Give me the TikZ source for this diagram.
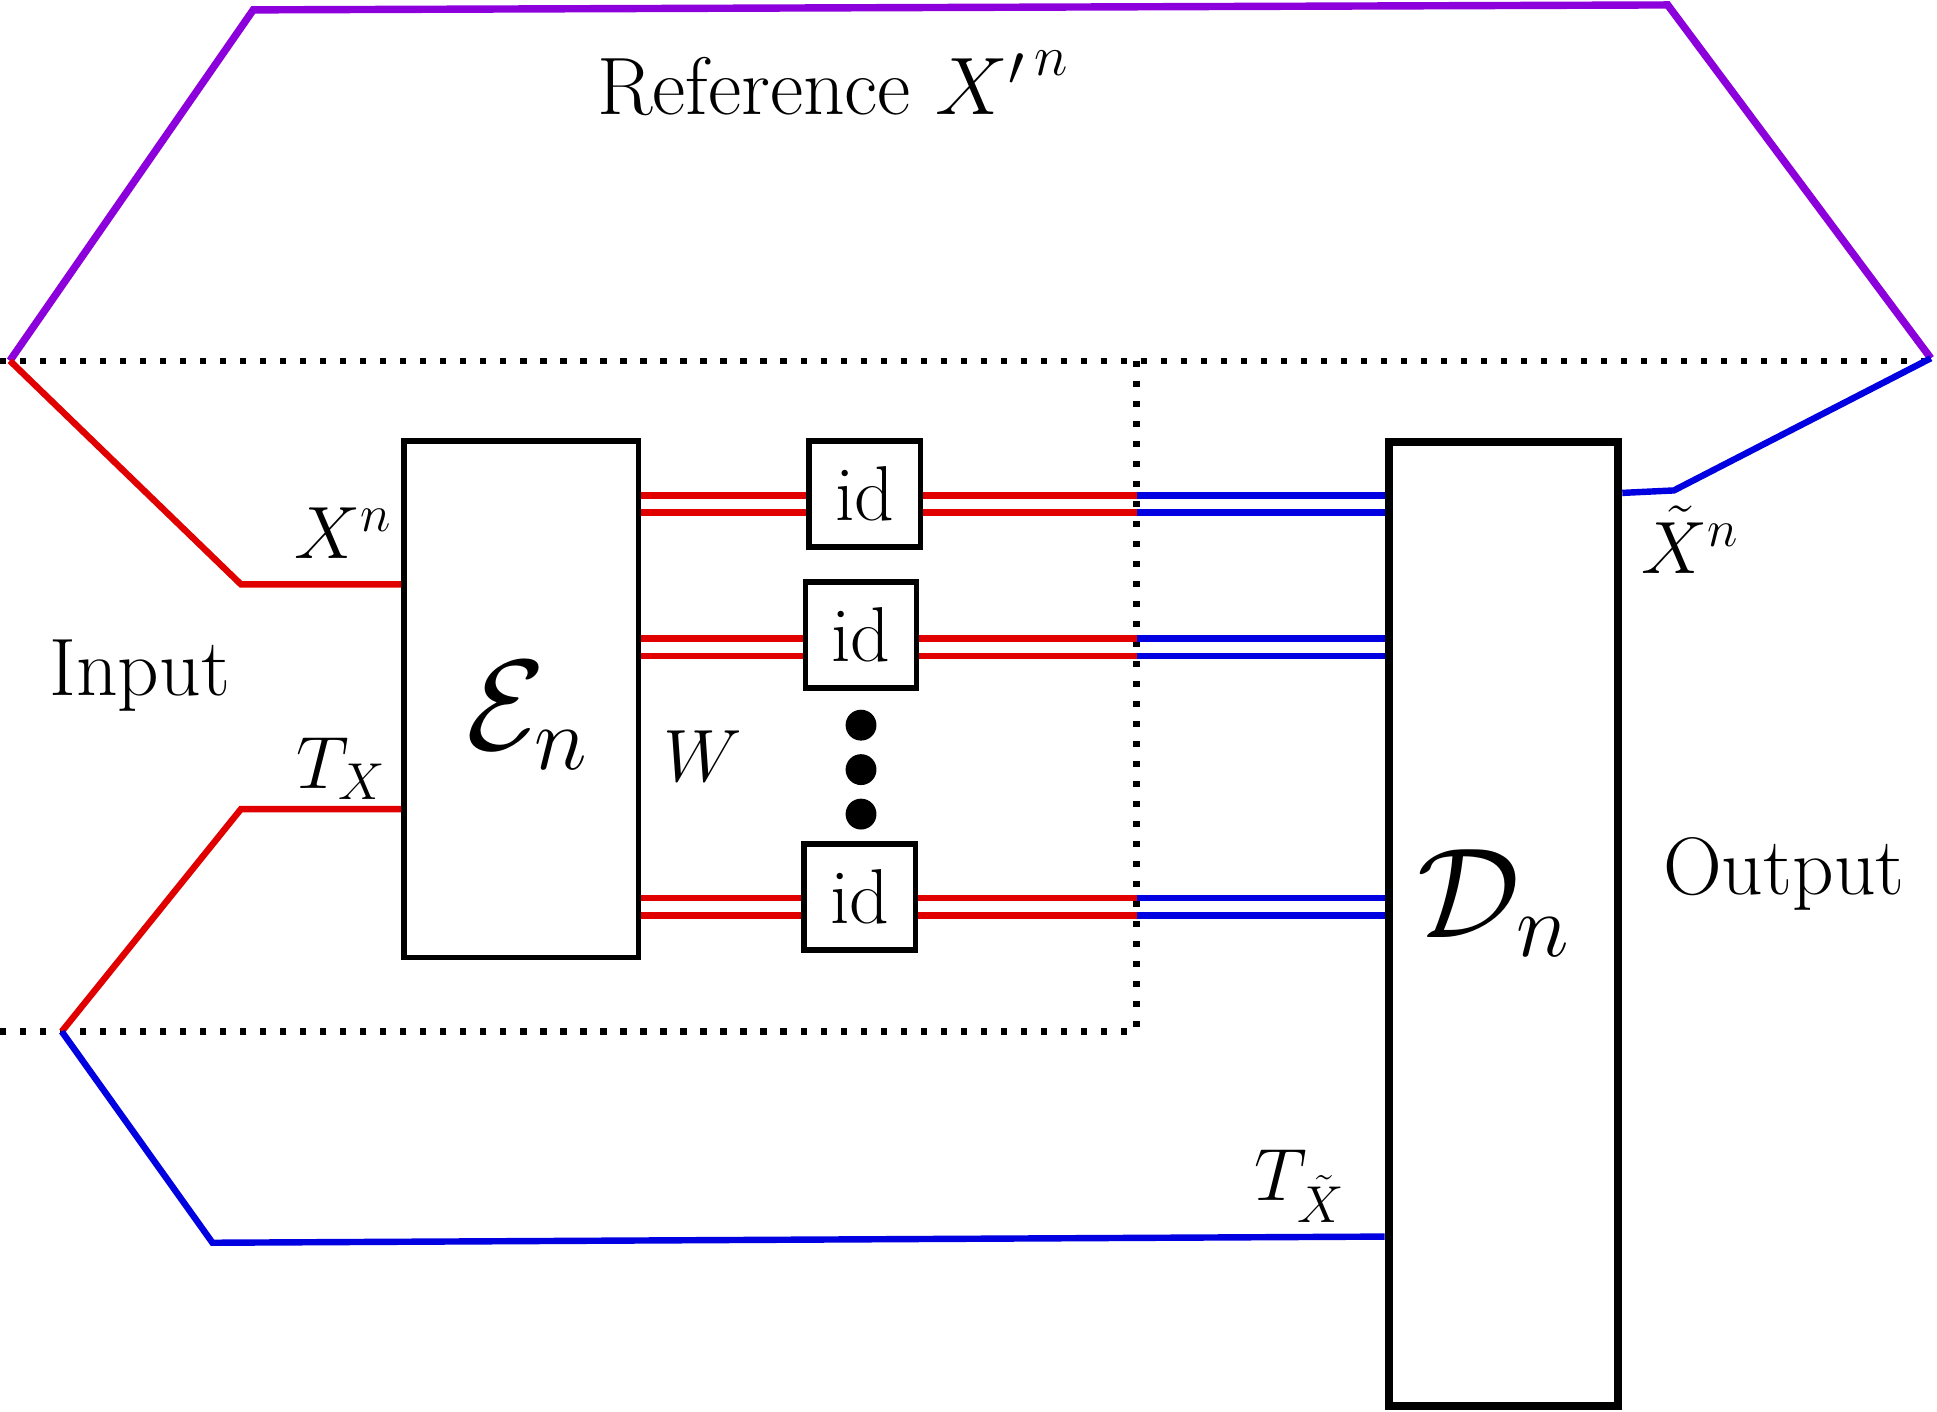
\RequirePackage{fix-cm}
\documentclass[tikz,border=0pt]{standalone}
\definecolor{cred}{RGB}{225,0,0}
\definecolor{cblue}{RGB}{0,0,225}
\definecolor{cpurple}{RGB}{140,0,220}
\begin{document}
\begin{tikzpicture}[x=1pt,y=-1pt,
  lbl/.style={font=\fontsize{60}{72}\selectfont, inner sep=0pt, anchor=base},
  txtlbl/.style={font=\fontsize{66}{78}\selectfont, inner sep=0pt, anchor=base},
  biglbl/.style={font=\fontsize{104}{124}\selectfont, inner sep=0pt, anchor=base},
  encbox/.style={draw, line width=4.5pt, inner sep=0pt, minimum width=190pt, minimum height=418pt},
  decbox/.style={draw, line width=6.5pt, inner sep=0pt, minimum width=186pt, minimum height=780pt},
  idbox/.style={draw, line width=4.5pt, inner sep=0pt, minimum width=90pt, minimum height=86pt, font=\fontsize{63}{72}\selectfont},
  redw/.style={draw=cred, line width=5.2pt},
  bluew/.style={draw=cblue, line width=5.2pt},
  purw/.style={draw=cpurple, line width=6pt},
  dotw/.style={line width=5pt, dash pattern=on 5pt off 11.2pt},
  dotc/.style={fill=black, circle, inner sep=0pt, minimum size=25pt}
]
\useasboundingbox (0,0) rectangle (1568,1143);

% boxes
\node[encbox] (E) at (422,566) {};
\node[decbox] (D) at (1217,748) {};
\node[idbox] (id1) at (700,400) {id};
\node[idbox] (id2) at (697,514) {id};
\node[idbox] (id3) at (696,726) {id};
\node[dotc] (d1) at (697,587) {};
\node[dotc] (d2) at (697,623) {};
\node[dotc] (d3) at (697,659) {};

% coordinates
\coordinate (pL) at (8,292);
\coordinate (pB) at (50,835);
\coordinate (pR) at (1563,290);
\coordinate (pt1) at (205,8);
\coordinate (pt2) at (1350,4);
\coordinate (kx) at (195,473);
\coordinate (kt) at (195,655);
\coordinate (kb) at (172,1006);
\coordinate (kbe) at (1122,1001);
\coordinate (kxo) at (1355,397);
\coordinate (kxs) at (1310,399);

% dotted frame
\coordinate (dTL) at (0,292);
\coordinate (dTR) at (1560,292);
\coordinate (dV1) at (920,292);
\coordinate (dV2) at (920,835);
\coordinate (dBL) at (0,835);
\draw[dotw] (dTL) -- (dTR);
\draw[dotw] (dV1) -- (dV2) -- (dBL);

% purple reference
\draw[purw] (pL) -- (pt1) -- (pt2) -- (pR);

% inputs
\draw[redw] (pL) -- (kx) -- (kx -| E.west);
\draw[redw] (pB) -- (kt) -- (kt -| E.west);

% bottom blue
\draw[bluew] (pB) -- (kb) -- (kbe -| D.west);

% output Xtilde
\draw[bluew] (kxs -| D.east) -- (kxo) -- (pR);

% double wires
\foreach \b/\ya/\yb in {id1/401/415, id2/517/531, id3/727/741}{
  \coordinate (ja) at (920,\ya);
  \coordinate (jb) at (920,\yb);
  \draw[redw] (E.east |- ja) -- (\b.west |- ja);
  \draw[redw] (E.east |- jb) -- (\b.west |- jb);
  \draw[redw] (\b.east |- ja) -- (ja);
  \draw[redw] (\b.east |- jb) -- (jb);
  \draw[bluew] (ja) -- (D.west |- ja);
  \draw[bluew] (jb) -- (D.west |- jb);
}

% labels
\node[txtlbl] (tref) at (674,93) {Reference ${X'}^{\,n}$};
\node[txtlbl] (tin) at (113,563) {Input};
\node[txtlbl] (tout) at (1444,724) {Output};
\node[lbl] (txn) at (278,452) {$X^n$};
\node[lbl] (ttx) at (276,638) {$T_X$};
\node[lbl] (tw) at (569,633) {$W$};
\node[lbl] (txt) at (1368,464) {$\tilde X^n$};
\node[lbl] (ttxt) at (1052,972) {$T_{\tilde X}$};
\node[biglbl] (ten) at (427,607) {$\mathcal{E}_n$};
\node[biglbl] (tdn) at (1209,759) {$\mathcal{D}_n$};
\end{tikzpicture}
\end{document}
